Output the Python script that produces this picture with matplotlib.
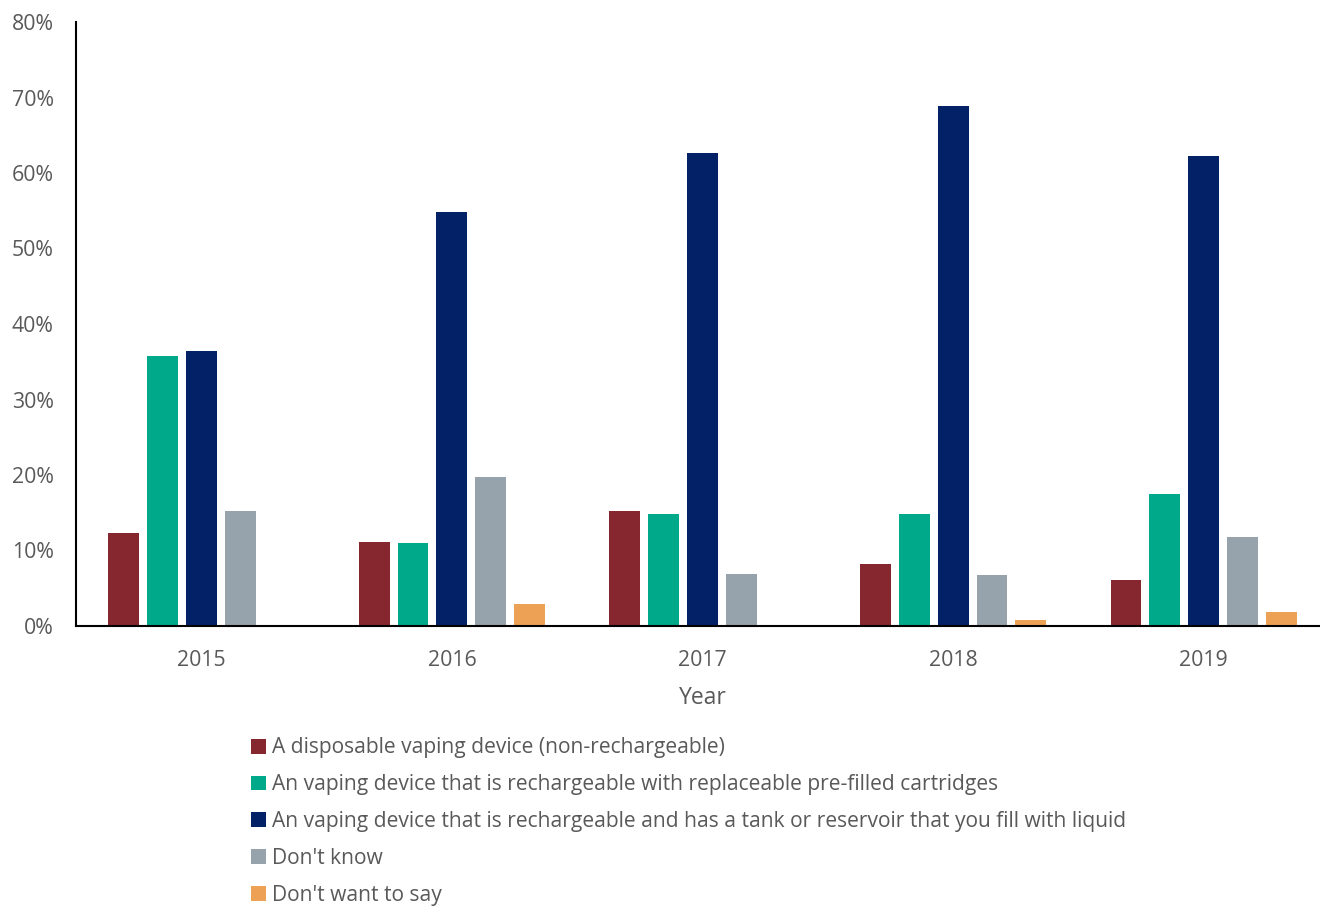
import numpy as np
import matplotlib.pyplot as plt

years = ["2015", "2016", "2017", "2018", "2019"]
series = [
    "A disposable vaping device (non-rechargeable)",
    "An vaping device that is rechargeable with replaceable pre-filled cartridges",
    "An vaping device that is rechargeable and has a tank or reservoir that you fill with liquid",
    "Don't know",
    "Don't want to say",
]
disposable = [12.3, 11.1, 15.2, 8.2, 6.1]
cartridges = [35.8, 11.0, 14.8, 14.8, 17.5]
tank = [36.4, 54.8, 62.6, 68.9, 62.3]
dont_know = [15.2, 19.7, 6.9, 6.8, 11.8]
dont_say = [0.0, 2.9, 0.0, 0.8, 1.9]
colors = ["#86262F", "#00A98A", "#022166", "#97A3AC", "#EDA154"]

plt.rcParams['font.family'] = ['Open Sans', 'DejaVu Sans']
txt = "#595959"

fig = plt.figure(figsize=(13.2, 9.06), dpi=100)
ax = fig.add_axes([76/1320, 1-626/906, 1253/1320, 604/906])

x = np.arange(len(years))
pitch = 0.155
width = 0.123
data = [disposable, cartridges, tank, dont_know, dont_say]
for i, (vals, name) in enumerate(zip(data, series)):
    ax.bar(x + (i - 2) * pitch, vals, width, color=colors[i], label=name)

ax.set_xlim(-0.5, 4.5)
ax.set_ylim(0, 80)
ax.set_yticks(range(0, 81, 10))
ax.set_yticklabels([f"{v}%" for v in range(0, 81, 10)])
ax.set_xticks(x)
ax.set_xticklabels(years)
ax.tick_params(length=0, labelsize=15.3, colors=txt)
ax.tick_params(axis='x', pad=17)
ax.tick_params(axis='y', pad=16)
for s in ['top', 'right']:
    ax.spines[s].set_visible(False)
ax.spines['left'].set_color('black')
ax.spines['left'].set_linewidth(1.5)
ax.spines['bottom'].set_color('black')
ax.spines['bottom'].set_linewidth(1.5)
ax.set_xlabel("Year", fontsize=16.5, color=txt, labelpad=11)

fig.legend(loc='upper left', bbox_to_anchor=(243/1320, 1-729/906), frameon=False,
           fontsize=15.1, labelcolor=txt, handlelength=0.72, handleheight=0.72,
           handletextpad=0.25, labelspacing=0.76, borderaxespad=0)

fig.savefig("out.png", dpi=100)
